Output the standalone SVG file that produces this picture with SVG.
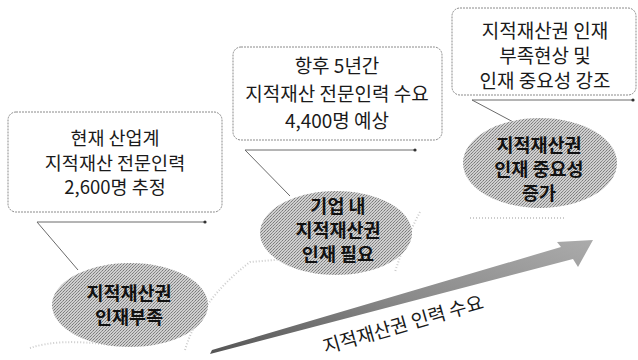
<svg xmlns="http://www.w3.org/2000/svg" width="638" height="360" viewBox="0 0 638 360">
<defs>
<pattern id="ht" width="3" height="3" patternUnits="userSpaceOnUse">
<rect width="3" height="3" fill="#cfcfcf"/>
<rect x="0" y="0" width="1" height="1" fill="#7a7a7a"/>
<rect x="2" y="1" width="1" height="1" fill="#939393"/>
<rect x="1" y="2" width="1" height="1" fill="#858585"/>
</pattern>
<linearGradient id="ag" x1="0" y1="1" x2="1" y2="0">
<stop offset="0" stop-color="#555"/>
<stop offset="0.5" stop-color="#8a8a8a"/>
<stop offset="1" stop-color="#ababab"/>
</linearGradient>
<style>
.box{fill:#fff;stroke:#8a8a8a;stroke-width:1;stroke-dasharray:2 1}
.tail{fill:none;stroke:#6a6a6a;stroke-width:1}
.dot{fill:#333}
.ell{fill:url(#ht)}
.t{font-family:"Noto Sans CJK KR","Noto Sans",sans-serif;font-size:19px;fill:#1a1a1a;text-anchor:middle}
.b{font-family:"Noto Sans CJK KR","Noto Sans",sans-serif;font-size:18.5px;font-weight:bold;fill:#111;text-anchor:middle}
.faint{fill:none;stroke:#cccccc;stroke-width:2;stroke-dasharray:1 2}
</style>
</defs>
<rect width="638" height="360" fill="#fff"/>
<g id="background-traces">
<path class="faint" d="M30 348 Q60 338 110 345"/>
<path class="faint" d="M185 350 Q200 300 250 262 L300 258"/>
<path class="faint" d="M420 212 Q405 240 395 272"/>
<path class="faint" d="M470 218 L565 218"/>
</g>
<g id="connectors">
<path class="tail" d="M78 270 L37 222 L205 222"/>
<circle class="dot" cx="205" cy="222" r="1.6"/>
<path class="tail" d="M290 196 L245 150 L415 150"/>
<circle class="dot" cx="415" cy="150" r="1.6"/>
<path class="tail" d="M517 124 L472 100 L633 100"/>
<circle class="dot" cx="633" cy="100" r="1.6"/>
</g>
<g id="demand-arrow">
<path d="M210 354 L212 350 L561 247 L557 242 L593 240 L578 267 L573 259 Z" fill="url(#ag)"/>
<text class="t" transform="translate(405 331) rotate(-16)">지적재산권 인력 수요</text>
</g>
<g id="box1">
<rect class="box" x="8" y="112" width="214" height="100" rx="8"/>
<text class="t" style="font-size:18.5px"><tspan x="115" y="145">현재 산업계</tspan><tspan x="115" y="169.5">지적재산 전문인력</tspan><tspan x="115" y="194">2,600명 추정</tspan></text>
</g>
<g id="box2">
<rect class="box" x="233" y="47" width="209" height="93" rx="8"/>
<text class="t"><tspan x="337" y="73">항후 5년간</tspan><tspan x="337" y="101">지적재산 전문인력 수요</tspan><tspan x="337" y="128">4,400명 예상</tspan></text>
</g>
<g id="box3">
<rect class="box" x="452" y="8" width="184" height="87" rx="8"/>
<text class="t"><tspan x="545" y="38">지적재산권 인재</tspan><tspan x="545" y="63">부족현상 및</tspan><tspan x="545" y="88">인재 중요성 강조</tspan></text>
</g>
<g id="ellipse1">
<ellipse class="ell" cx="130" cy="305" rx="78" ry="42"/>
<text class="b"><tspan x="129" y="300">지적재산권</tspan><tspan x="129" y="324">인재부족</tspan></text>
</g>
<g id="ellipse2">
<ellipse class="ell" cx="336" cy="233" rx="76" ry="42"/>
<text class="b"><tspan x="338" y="213">기업 내</tspan><tspan x="338" y="237">지적재산권</tspan><tspan x="338" y="261">인재 필요</tspan></text>
</g>
<g id="ellipse3">
<ellipse class="ell" cx="540" cy="163" rx="77" ry="45"/>
<text class="b"><tspan x="539" y="152">지적재산권</tspan><tspan x="539" y="176">인재 중요성</tspan><tspan x="539" y="200">증가</tspan></text>
</g>
</svg>
